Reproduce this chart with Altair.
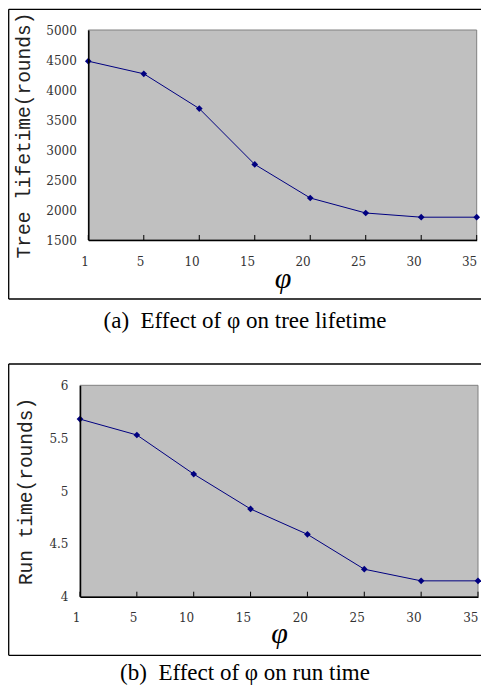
import altair as alt
import pandas as pd

# ---- data ----
phi = [1, 5, 10, 15, 20, 25, 30, 35]
lifetime = [4480, 4270, 3690, 2760, 2200, 1950, 1880, 1880]
runtime = [5.68, 5.53, 5.16, 4.83, 4.59, 4.26, 4.15, 4.15]
life_ticks = [1500, 2000, 2500, 3000, 3500, 4000, 4500, 5000]
run_ticks = [4, 4.5, 5, 5.5, 6]
life_label = "Tree lifetime(rounds)"
run_label = "Run time(rounds)"
x_title = "φ"
cap_a = "(a)\u00a0 Effect of φ on tree lifetime"
cap_b = "(b)\u00a0 Effect of φ on run time"

MONO = "Liberation Mono"
SERIF = "Liberation Serif"
TICKF = "DejaVu Serif"
NAVY = "#000080"
W, H = 473, 677  # whole drawing (page minus 8px margins)


def panel(values, ylabel, domain, ticks, fmt, caption,
          px0, px1, py0, py1, frame_top, frame_bottom,
          ytitle_x, xtitle_y, cap_y, flush):
    df = pd.DataFrame({"phi": phi, "v": values})
    one = alt.Chart(alt.Data(values=[{}]))

    # frame around the sub-figure (left, top, bottom edges)
    fkw = dict(color="black", strokeWidth=1.3)
    f1 = one.mark_rule(**fkw).encode(x=alt.value(0.7), x2=alt.value(W), y=alt.value(frame_top))
    f2 = one.mark_rule(**fkw).encode(x=alt.value(0.7), x2=alt.value(W), y=alt.value(frame_bottom))
    f3 = one.mark_rule(**fkw).encode(x=alt.value(0.7), y=alt.value(frame_top), y2=alt.value(frame_bottom))
    # grey plotting area
    bg = one.mark_rect(fill="#C0C0C0", stroke="#808080", strokeWidth=1).encode(
        x=alt.value(px0), x2=alt.value(px1), y=alt.value(py0), y2=alt.value(py1))
    cap = one.mark_text(text=caption, font=SERIF, fontSize=23, color="black",
                        align="center", baseline="alphabetic").encode(
        x=alt.value(W / 2 + 0.5), y=alt.value(cap_y))

    xenc = alt.X(
        "phi:O", sort=phi,
        scale=alt.Scale(type="point", padding=0, domain=phi, range=[px0, px1]),
        axis=alt.Axis(
            orient="bottom",
            title=x_title, titleFont=SERIF, titleFontStyle="italic", titleFontSize=30,
            titleFontWeight="normal", titleColor="black",
            titleX=(px0 + px1) / 2, titleY=xtitle_y,
            titleBaseline="alphabetic", titleAlign="center",
            labelFont=TICKF, labelFontSize=12, labelColor="#333", labelAngle=0,
            labelPadding=21, labelFlush=True, labelFlushOffset=flush,
            ticks=False, domainColor="black", domainWidth=1.5,
            grid=False, labelOverlap=False, offset=py1 - H, zindex=2))
    yenc = alt.Y(
        "v:Q",
        scale=alt.Scale(domain=domain, range=[py1, py0], nice=False, zero=False),
        axis=alt.Axis(
            orient="left",
            values=ticks, format=fmt, title=ylabel, titleFont=MONO, titleFontSize=19.5,
            titleFontWeight="normal", titleColor="#222",
            titleX=ytitle_x, titleY=(py0 + py1) / 2,
            titleAngle=270, titleAlign="center", titleBaseline="alphabetic",
            labelFont=TICKF, labelFontSize=12, labelColor="#333", labelPadding=12,
            ticks=False, domainColor="black", domainWidth=1.5, grid=False,
            labelOverlap=False, offset=-px0, zindex=2))

    base = alt.Chart(df)
    line = base.mark_line(color=NAVY, strokeWidth=1).encode(x=xenc, y=yenc)
    pts = base.mark_point(shape="diamond", filled=True, color=NAVY, size=45,
                          opacity=1).encode(x="phi:O", y="v:Q")
    inner = base.mark_rule(color="black", strokeWidth=1).encode(
        x="phi:O", y=alt.value(py1 - 5), y2=alt.value(py1))
    data_layer = alt.layer(inner, line, pts)
    return [f1, f2, f3, bg, cap], data_layer


deco_a, data_a = panel(lifetime, life_label, [1500, 5000], life_ticks, "d", cap_a,
                       80.3, 468.7, 22, 232, 1.3, 291,
                       -59.3, 47, 320, 4)
deco_b, data_b = panel(runtime, run_label, [4, 6], run_ticks, "~g", cap_b,
                       72, 470, 377.3, 588.7, 356, 647.3,
                       -49, 46, 672.3, 3)

chart = alt.layer(*deco_a, *deco_b, data_a, data_b).resolve_scale(
    x="independent", y="independent"
).properties(
    width=W, height=H, padding=0,
    autosize=alt.AutoSizeParams(type="none")
).configure_view(strokeWidth=0)

chart.save("out.html", embed_options={"renderer": "svg", "actions": False})
